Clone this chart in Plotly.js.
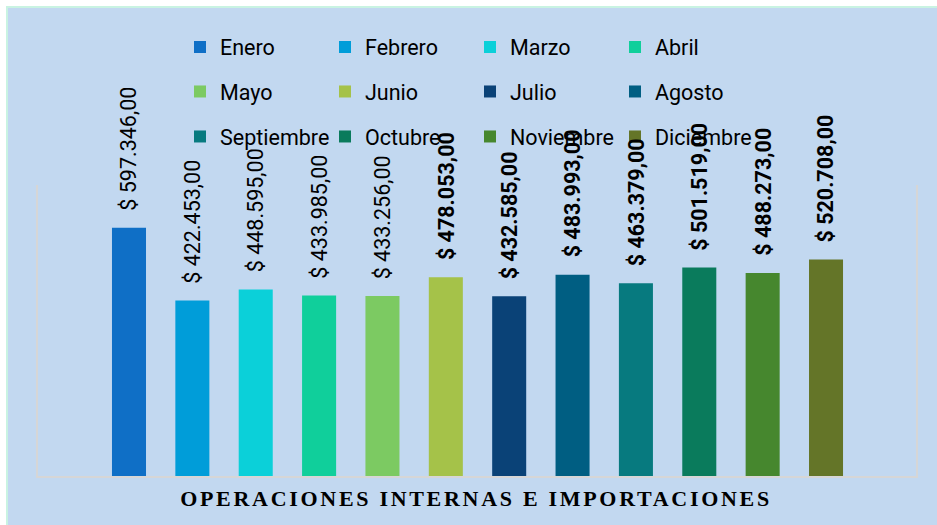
<!DOCTYPE html>
<html><head><meta charset="utf-8">
<script src="https://cdn.plot.ly/plotly-3.0.1.min.js"></script>
<style>
html,body{margin:0;padding:0;background:#ffffff;}
#wrap{position:absolute;left:6px;top:6px;border-left:2px solid #C9F3E2;border-top:2px solid #C9F3E2;}
#chart{width:929px;height:517px;}
.gtitle{letter-spacing:2.7px;}
</style></head><body>
<div id="wrap"><div id="chart"></div></div>
<script>
const months = ['Enero','Febrero','Marzo','Abril','Mayo','Junio','Julio','Agosto','Septiembre','Octubre','Noviembre','Diciembre'];
const values = [597346, 422453, 448595, 433985, 433256, 478053, 432585, 483993, 463379, 501519, 488273, 520708];
const labels = ['$ 597.346,00','$ 422.453,00','$ 448.595,00','$ 433.985,00','$ 433.256,00','$ 478.053,00','$ 432.585,00','$ 483.993,00','$ 463.379,00','$ 501.519,00','$ 488.273,00','$ 520.708,00'];
const boldLabel = [false,false,false,false,false,true,true,true,true,true,true,true];
const colors = ['#0F6FC6','#009DD9','#0BD0D9','#10CF9B','#7CCA62','#A5C249','#0A4277','#005E82','#077A7F','#0A7B5C','#46872E','#647528'];
const legendIds = ['legend','legend','legend','legend','legend2','legend2','legend2','legend2','legend3','legend3','legend3','legend3'];
const chartTitle = 'OPERACIONES INTERNAS E IMPORTACIONES';

const FONT = 'Roboto, "Open Sans", sans-serif';
const traces = months.map((m, i) => ({
  type: 'bar',
  name: m,
  x: [m],
  y: [values[i]],
  width: 0.537,
  marker: {color: colors[i], line: {width: 0}},
  legend: legendIds[i],
  hoverinfo: 'skip'
}));

const annotations = months.map((m, i) => ({
  x: m, y: values[i], xref: 'x', yref: 'y',
  text: labels[i], showarrow: false, textangle: -90,
  xanchor: 'center', yanchor: 'bottom', yshift: 15,
  font: {family: FONT, size: 21.5, color: '#000000', weight: boldLabel[i] ? 'bold' : 'normal'}
}));

function legendCfg(yPix) {
  return {
    orientation: 'h', xref: 'container', yref: 'container',
    x: (180 - 8) / 929, xanchor: 'left',
    y: 1 - (yPix - 8) / 517, yanchor: 'middle',
    entrywidth: 100, bgcolor: 'rgba(0,0,0,0)', borderwidth: 0,
    font: {family: FONT, size: 21.5, color: '#000000'},
    traceorder: 'normal', itemclick: false, itemdoubleclick: false
  };
}

const layout = {
  width: 929, height: 517,
  paper_bgcolor: '#C2D8F0', plot_bgcolor: '#C2D8F0',
  margin: {l: 30, r: 21, t: 177, b: 49},
  barmode: 'overlay',
  showlegend: true,
  legend: legendCfg(47),
  legend2: legendCfg(91.5),
  legend3: legendCfg(136.5),
  title: {
    text: chartTitle, xref: 'container', yref: 'container',
    x: (476 - 8) / 929, xanchor: 'center', y: 27 / 517, yanchor: 'middle',
    font: {family: '"Liberation Serif", "Times New Roman", serif', size: 22, weight: 'bold', color: '#000000'}
  },
  xaxis: {
    type: 'category', categoryorder: 'array', categoryarray: months,
    range: [-1.436, 12.42], showticklabels: false, ticks: '', showgrid: false,
    zeroline: false, showline: true, linecolor: '#D6D6D6', linewidth: 2, fixedrange: true
  },
  yaxis: {
    range: [0, 700000], showticklabels: false, ticks: '', showgrid: false,
    zeroline: false, showline: true, mirror: true, linecolor: '#D6D6D6', linewidth: 2, fixedrange: true
  },
  annotations: annotations
};

Plotly.newPlot('chart', traces, layout, {displayModeBar: false, staticPlot: true});
</script>
</body></html>
